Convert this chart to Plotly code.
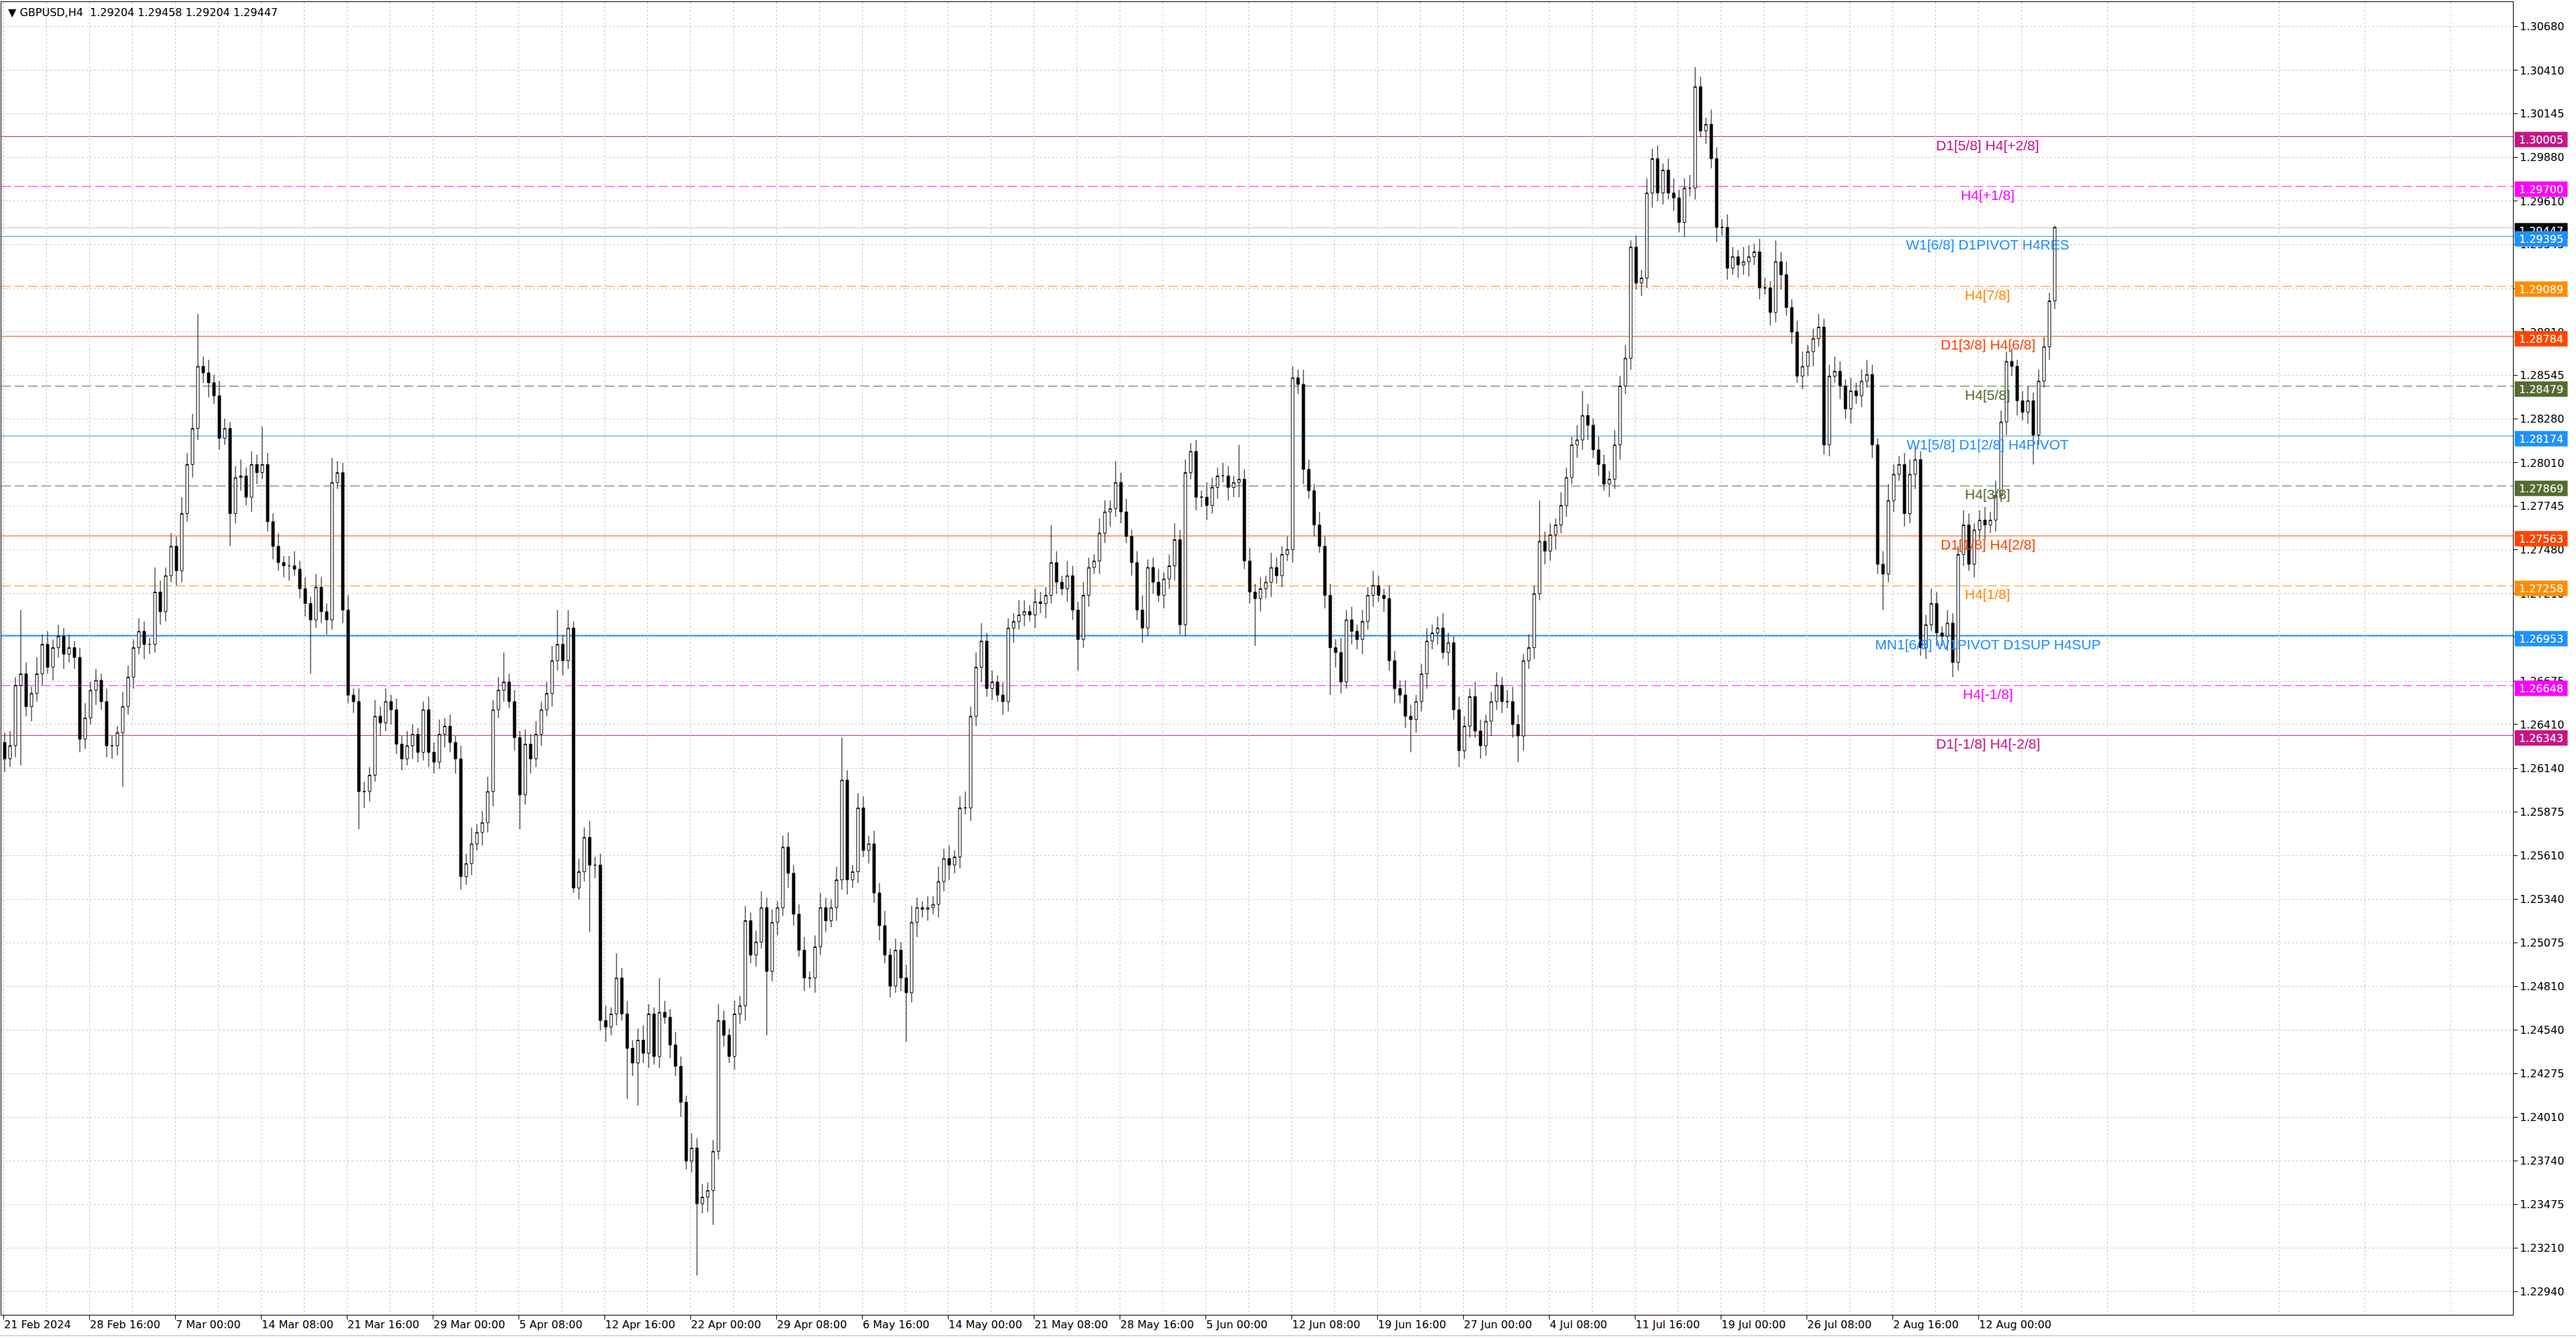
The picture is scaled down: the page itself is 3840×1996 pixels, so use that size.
"""GBPUSD H4 chart (MT4 look) with Murrey/pivot levels -- plotly version."""
import plotly.graph_objects as go

# ---- data -------------------------------------------------------------
# 2-bar candles, prices in pips (12620 = 1.2620)
OPEN_FIRST = 12630
CLOSE = [
    12620, 12628, 12665, 12672, 12652, 12660, 12672, 12690, 12676, 12688,
    12695, 12684, 12688, 12682, 12632, 12645, 12662, 12668, 12655, 12628,
    12628, 12636, 12652, 12670, 12688, 12698, 12690, 12690, 12722, 12710,
    12732, 12750, 12735, 12770, 12800, 12822, 12860, 12856, 12850, 12842,
    12816, 12822, 12770, 12792, 12793, 12780, 12800, 12795, 12800, 12765,
    12750, 12740, 12738, 12738, 12736, 12724, 12715, 12705, 12725, 12710,
    12705, 12789, 12795, 12711, 12659, 12655, 12600, 12600, 12610, 12646,
    12642, 12655, 12650, 12629, 12620, 12628, 12635, 12624, 12650, 12624,
    12618, 12635, 12640, 12630, 12620, 12548, 12556, 12568, 12575, 12581,
    12600, 12650, 12662, 12667, 12655, 12633, 12598, 12629, 12620, 12635,
    12650, 12660, 12680, 12690, 12680, 12700, 12541, 12551, 12572, 12555,
    12555, 12460, 12456, 12464, 12486, 12464, 12443, 12434, 12448, 12440,
    12464, 12438, 12465, 12462, 12445, 12432, 12410, 12374, 12382, 12348,
    12352, 12356, 12380, 12460, 12451, 12438, 12464, 12469, 12521, 12500,
    12508, 12529, 12490, 12520, 12529, 12566, 12550, 12525, 12503, 12486,
    12486, 12505, 12529, 12521, 12529, 12546, 12607, 12546, 12551, 12590,
    12564, 12568, 12538, 12518, 12500, 12481, 12503, 12486, 12477, 12520,
    12529, 12528, 12529, 12531, 12545, 12559, 12555, 12560, 12590, 12590,
    12646, 12676, 12692, 12663, 12667, 12659, 12655, 12700, 12704, 12708,
    12710, 12708, 12716, 12715, 12720, 12740, 12728, 12724, 12732, 12711,
    12693, 12720, 12737, 12741, 12758, 12771, 12773, 12789, 12771, 12756,
    12740, 12711, 12700, 12737, 12728, 12720, 12730, 12738, 12754, 12702,
    12795, 12808, 12780, 12780, 12775, 12786, 12793, 12793, 12786, 12789,
    12791, 12741, 12722, 12718, 12724, 12728, 12737, 12732, 12745, 12748,
    12853, 12849, 12797, 12784, 12763, 12750, 12720, 12688, 12685, 12667,
    12705, 12698, 12693, 12704, 12720, 12726, 12720, 12718, 12680, 12663,
    12659, 12646, 12644, 12655, 12672, 12692, 12697, 12700, 12685, 12691,
    12650, 12625, 12640, 12658, 12637, 12628, 12643, 12655, 12665, 12655,
    12655, 12641, 12634, 12680, 12688, 12721, 12753, 12747, 12757, 12763,
    12775, 12792, 12812, 12815, 12830, 12824, 12809, 12800, 12788, 12791,
    12812, 12848, 12865, 12933, 12911, 12914, 12966, 12987, 12966, 12980,
    12966, 12963, 12948, 12969, 12969, 13031, 13004, 13008, 12987, 12945,
    12945, 12920, 12927, 12922, 12924, 12927, 12930, 12908, 12908, 12893,
    12924, 12916, 12896, 12881, 12854, 12860, 12869, 12877, 12884, 12812,
    12854, 12857, 12848, 12834, 12845, 12842, 12851, 12855, 12812, 12739,
    12733, 12778, 12794, 12800, 12770, 12794, 12803, 12688, 12702, 12715,
    12697, 12695, 12703, 12679, 12745, 12763, 12739, 12760, 12766, 12763,
    12766, 12781, 12826, 12863, 12860, 12839, 12832, 12839, 12818, 12851,
    12872, 12900, 12945,
]
# wick length above / below the body, pips
WICK_UP = [
    6, 9, 5, 39, 7, 4, 10, 6, 8, 5,
    7, 5, 8, 4, 6, 9, 5, 7, 4, 8,
    6, 4, 9, 7, 5, 8, 6, 4, 15, 7,
    5, 8, 6, 10, 7, 9, 32, 6, 8, 5,
    9, 6, 4, 7, 10, 5, 8, 6, 23, 7,
    5, 8, 4, 6, 9, 5, 7, 4, 8, 6,
    5, 15, 7, 6, 9, 4, 8, 6, 5, 10,
    6, 8, 4, 7, 5, 9, 6, 4, 5, 8,
    6, 9, 5, 7, 4, 8, 6, 10, 5, 7,
    9, 6, 8, 18, 5, 7, 4, 9, 6, 8,
    5, 7, 9, 21, 6, 11, 4, 8, 6, 10,
    5, 7, 9, 4, 15, 6, 8, 5, 7, 9,
    6, 4, 21, 7, 5, 8, 6, 4, 9, 6,
    8, 5, 7, 10, 6, 4, 8, 6, 9, 5,
    7, 10, 6, 8, 4, 7, 9, 5, 6, 8,
    4, 7, 9, 6, 5, 8, 26, 6, 4, 9,
    7, 5, 8, 6, 9, 4, 7, 5, 8, 10,
    6, 4, 7, 5, 9, 6, 8, 4, 7, 10,
    6, 9, 11, 5, 7, 4, 8, 6, 5, 9,
    7, 4, 8, 6, 5, 23, 7, 4, 9, 6,
    5, 8, 6, 4, 9, 7, 5, 13, 6, 8,
    4, 7, 9, 5, 6, 8, 4, 7, 10, 6,
    8, 5, 7, 4, 9, 6, 5, 8, 6, 4,
    21, 6, 8, 5, 7, 4, 9, 6, 5, 8,
    7, 5, 9, 6, 4, 8, 6, 7, 5, 9,
    6, 8, 4, 7, 5, 9, 6, 4, 8, 6,
    5, 9, 7, 4, 6, 8, 5, 7, 9, 6,
    4, 8, 6, 5, 9, 7, 4, 6, 8, 5,
    7, 9, 6, 4, 8, 5, 25, 6, 7, 4,
    8, 6, 5, 9, 15, 7, 4, 8, 6, 5,
    9, 6, 8, 4, 7, 5, 9, 6, 8, 4,
    7, 9, 5, 6, 8, 12, 6, 4, 9, 7,
    5, 8, 6, 4, 9, 7, 5, 8, 6, 4,
    13, 6, 8, 5, 7, 9, 4, 6, 8, 5,
    7, 9, 6, 4, 8, 5, 7, 9, 6, 4,
    8, 10, 6, 5, 7, 9, 8, 5, 6, 9,
    7, 4, 8, 6, 5, 9, 7, 4, 6, 8,
    5, 9, 7, 6, 8, 4, 6, 9, 5, 7,
    6, 5, 1,
]
WICK_DN = [
    8, 5, 7, 49, 6, 9, 5, 7, 4, 8,
    6, 9, 5, 7, 8, 6, 4, 9, 5, 7,
    8, 6, 33, 5, 7, 4, 9, 6, 5, 8,
    6, 4, 9, 7, 5, 8, 7, 6, 9, 5,
    7, 4, 20, 6, 8, 5, 9, 7, 4, 6,
    8, 5, 7, 9, 4, 6, 8, 33, 5, 7,
    9, 6, 4, 8, 5, 7, 23, 10, 6, 4,
    8, 5, 9, 6, 7, 4, 8, 6, 5, 9,
    7, 4, 8, 6, 9, 8, 5, 7, 4, 8,
    6, 9, 5, 7, 4, 8, 21, 6, 9, 5,
    7, 4, 8, 6, 9, 5, 3, 7, 6, 41,
    8, 6, 9, 5, 7, 4, 31, 8, 26, 6,
    9, 5, 7, 4, 8, 6, 9, 5, 7, 44,
    6, 9, 21, 5, 7, 4, 8, 6, 9, 5,
    7, 4, 39, 6, 8, 5, 9, 7, 4, 8,
    6, 9, 5, 7, 4, 8, 6, 9, 5, 7,
    4, 8, 6, 9, 5, 7, 4, 8, 30, 6,
    9, 5, 7, 4, 8, 6, 9, 5, 7, 4,
    8, 6, 9, 5, 7, 4, 8, 6, 9, 5,
    7, 4, 8, 6, 9, 5, 7, 4, 8, 6,
    19, 5, 7, 4, 8, 6, 9, 5, 7, 4,
    8, 6, 9, 5, 7, 4, 8, 6, 9, 6,
    7, 4, 8, 6, 9, 5, 7, 4, 8, 6,
    9, 5, 7, 29, 8, 6, 9, 5, 7, 4,
    8, 6, 9, 5, 7, 4, 8, 29, 9, 7,
    4, 8, 6, 9, 5, 7, 4, 8, 6, 9,
    5, 7, 20, 8, 6, 9, 5, 7, 4, 8,
    6, 10, 5, 7, 4, 8, 6, 9, 5, 7,
    4, 8, 16, 9, 5, 7, 4, 8, 6, 9,
    5, 7, 4, 8, 6, 9, 5, 7, 4, 8,
    6, 9, 5, 7, 4, 8, 6, 9, 5, 7,
    4, 8, 6, 9, 5, 7, 4, 8, 6, 9,
    5, 7, 4, 8, 6, 9, 5, 7, 4, 8,
    6, 9, 5, 7, 4, 8, 6, 9, 5, 6,
    7, 4, 8, 6, 9, 5, 7, 4, 8, 6,
    22, 5, 7, 4, 8, 6, 9, 5, 7, 4,
    8, 6, 9, 9, 5, 7, 4, 8, 6, 9,
    5, 7, 4, 8, 6, 9, 5, 7, 18, 6,
    4, 8, 5,
]

# levels drawn by the indicator
LEVEL_PRICES = [1.30005, 1.29700, 1.29447, 1.29395, 1.29089, 1.28784, 1.28479,
                1.28174, 1.27869, 1.27563, 1.27258, 1.26953, 1.26648, 1.26343]
LEVEL_NAMES = ["D1[5/8] H4[+2/8]", "H4[+1/8]", "", "W1[6/8] D1PIVOT H4RES",
               "H4[7/8]", "D1[3/8] H4[6/8]", "H4[5/8]", "W1[5/8] D1[2/8] H4PIVOT",
               "H4[3/8]", "D1[1/8] H4[2/8]", "H4[1/8]",
               "MN1[6/8] W1PIVOT D1SUP H4SUP", "H4[-1/8]", "D1[-1/8] H4[-2/8]"]
LEVEL_COLORS = ["#C71585", "#FF00FF", "#C0C0C0", "#1E90FF", "#FF8C00", "#FF4500",
                "#556B2F", "#1E90FF", "#556B2F", "#FF4500", "#FF8C00", "#1E90FF",
                "#FF00FF", "#C71585"]
LEVEL_BOX = ["#C71585", "#FF00FF", "#000000", "#1E90FF", "#FF8C00", "#FF4500",
             "#556B2F", "#1E90FF", "#556B2F", "#FF4500", "#FF8C00", "#1E90FF",
             "#FF00FF", "#C71585"]
LEVEL_DASH = ["solid", "14px,6px", "solid", "solid", "14px,6px", "solid", "14px,6px",
              "solid", "14px,6px", "solid", "14px,6px", "solid", "14px,6px", "solid"]
LEVEL_WIDTH = [1, 1, 1, 1, 1, 1, 1, 1, 1, 1, 1, 2, 1, 1]

Y_TICKS = [1.30680, 1.30410, 1.30145, 1.29880, 1.29610, 1.29345, 1.29075, 1.28810,
           1.28545, 1.28280, 1.28010, 1.27745, 1.27480, 1.27210, 1.26945, 1.26675,
           1.26410, 1.26140, 1.25875, 1.25610, 1.25340, 1.25075, 1.24810, 1.24540,
           1.24275, 1.24010, 1.23740, 1.23475, 1.23210, 1.22940]

X_TICK_BARS = [0, 32, 64, 96, 128, 160, 192, 224, 256, 288, 320, 352, 384, 416,
               448, 480, 512, 544, 576, 608, 640, 672, 704, 736]
X_TICK_TEXT = ["21 Feb 2024", "28 Feb 16:00", "7 Mar 00:00", "14 Mar 08:00",
               "21 Mar 16:00", "29 Mar 00:00", "5 Apr 08:00", "12 Apr 16:00",
               "22 Apr 00:00", "29 Apr 08:00", "6 May 16:00", "14 May 00:00",
               "21 May 08:00", "28 May 16:00", "5 Jun 00:00", "12 Jun 08:00",
               "19 Jun 16:00", "27 Jun 00:00", "4 Jul 08:00", "11 Jul 16:00",
               "19 Jul 00:00", "26 Jul 08:00", "2 Aug 16:00", "12 Aug 00:00"]

TITLE = "\u25bc GBPUSD,H4  1.29204 1.29458 1.29204 1.29447"

# ---- build ------------------------------------------------------------
n = min(len(CLOSE), len(WICK_UP), len(WICK_DN))
opens = [OPEN_FIRST] + CLOSE[:n - 1]
o = [v / 10000 for v in opens]
c = [v / 10000 for v in CLOSE[:n]]
h = [(max(opens[i], CLOSE[i]) + WICK_UP[i]) / 10000 for i in range(n)]
lo = [(min(opens[i], CLOSE[i]) - WICK_DN[i]) / 10000 for i in range(n)]
xs = [2 * i + 0.5 for i in range(n)]  # each candle spans two H4 slots

AX_FONT = dict(family="DejaVu Sans", size=16, color="#000000")
LBL_FONT = "Liberation Sans, Arial, sans-serif"

fig = go.Figure(go.Candlestick(
    x=xs, open=o, high=h, low=lo, close=c,
    increasing=dict(line=dict(color="#000000", width=1), fillcolor="#FFFFFF"),
    decreasing=dict(line=dict(color="#000000", width=1), fillcolor="#000000"),
    whiskerwidth=0, hoverinfo="skip", showlegend=False,
))

shapes = []
annotations = []
for price, name, col, box, dash, w in zip(LEVEL_PRICES, LEVEL_NAMES, LEVEL_COLORS,
                                          LEVEL_BOX, LEVEL_DASH, LEVEL_WIDTH):
    shapes.append(dict(type="line", xref="paper", x0=0, x1=1, yref="y", y0=price, y1=price,
                       line=dict(color=col, width=w, dash=dash), layer="below"))
    if name:
        annotations.append(dict(x=739.5, y=price, xref="x", yref="y", text=name,
                                showarrow=False, xanchor="center", yanchor="top", yshift=1,
                                font=dict(family=LBL_FONT, size=21, color=col)))
    # price tag on the axis (MT4 draws it a few px under the line)
    annotations.append(dict(x=1, y=price, xref="paper", yref="y", text=f"{price:.5f}",
                            showarrow=False, xanchor="left", yanchor="middle",
                            xshift=2, yshift=-4,
                            width=78, height=22, align="center", bgcolor=box, borderpad=0,
                            font=dict(family="DejaVu Sans", size=16, color="#FFFFFF")))

annotations.append(dict(x=0, y=1, xref="paper", yref="paper", text=TITLE, showarrow=False,
                        xanchor="left", yanchor="top", xshift=8, yshift=-4,
                        font=AX_FONT))

# window status-bar edge under the chart
shapes.append(dict(type="line", xref="paper", yref="paper", x0=-0.001, x1=1.03,
                   y0=-0.0158, y1=-0.0158, line=dict(color="#D8D8D8", width=2)))

fig.update_layout(
    width=3840, height=1996,
    margin=dict(l=2, r=94, t=3, b=36),
    paper_bgcolor="#FFFFFF", plot_bgcolor="#FFFFFF",
    shapes=shapes, annotations=annotations,
    hovermode=False, dragmode=False, showlegend=False,
    xaxis=dict(
        range=[-0.75, 935.25], rangeslider=dict(visible=False),
        tickmode="array", tickvals=X_TICK_BARS, ticktext=X_TICK_TEXT,
        ticklabelposition="outside right",
        ticks="outside", ticklen=6, tickcolor="#000000", tickfont=AX_FONT,
        showgrid=True, gridcolor="#C8C8C8", griddash="3px,3px", gridwidth=1,
        minor=dict(tick0=16, dtick=32, showgrid=True, gridcolor="#C8C8C8",
                   griddash="3px,3px", ticks=""),
        showline=True, linecolor="#000000", linewidth=1, mirror=True,
        zeroline=False, fixedrange=True,
    ),
    yaxis=dict(
        side="right", range=[1.22800, 1.30828],
        tickmode="array", tickvals=Y_TICKS, ticktext=[f"{v:.5f}" for v in Y_TICKS],
        ticks="outside", ticklen=6, tickcolor="#000000", tickfont=AX_FONT,
        showgrid=True, gridcolor="#C8C8C8", griddash="3px,3px", gridwidth=1,
        showline=True, linecolor="#000000", linewidth=1, mirror=True,
        zeroline=False, fixedrange=True,
    ),
)

fig.write_html("out.html", config={"displayModeBar": False, "staticPlot": True},
               post_script="document.body.style.margin='0';")
